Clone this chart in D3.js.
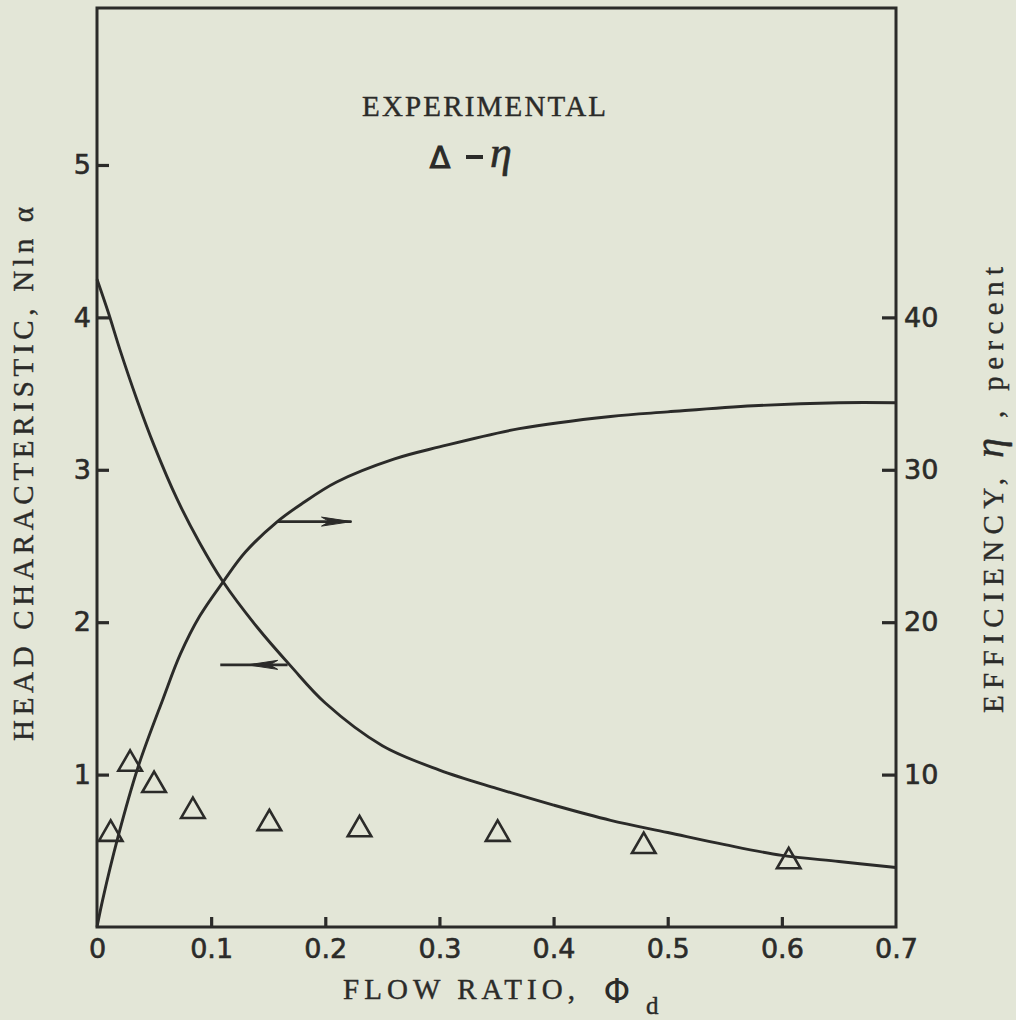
<!DOCTYPE html>
<html>
<head>
<meta charset="utf-8">
<script src="https://cdn.jsdelivr.net/npm/d3@7"></script>
<style>
  html, body { margin: 0; padding: 0; background: #e3e6d7; }
  svg { display: block; }
</style>
</head>
<body>
<svg id="chart" width="1016" height="1020"></svg>
<script>
// ---------- data ----------
const phiTicks = [0, 0.1, 0.2, 0.3, 0.4, 0.5, 0.6, 0.7];
const phiTickLabels = ["0", "0.1", "0.2", "0.3", "0.4", "0.5", "0.6", "0.7"];
const headTicks = [1, 2, 3, 4, 5];
const headTickLabels = ["1", "2", "3", "4", "5"];
const effTicks = [10, 20, 30, 40];
const effTickLabels = ["10", "20", "30", "40"];

// head characteristic curve (left axis, N ln alpha)
const headPhi = [0, 0.01, 0.02, 0.035, 0.05, 0.07, 0.09, 0.11, 0.14, 0.17, 0.20, 0.25, 0.30, 0.35, 0.40, 0.45, 0.50, 0.55, 0.60, 0.65, 0.70];
const headVal = [4.25, 4.03, 3.79, 3.46, 3.16, 2.81, 2.52, 2.27, 1.97, 1.71, 1.47, 1.19, 1.03, 0.91, 0.80, 0.70, 0.62, 0.54, 0.47, 0.43, 0.39];

// efficiency curve (right axis, percent)
const effPhi = [0, 0.005, 0.018, 0.036, 0.058, 0.073, 0.09, 0.111, 0.13, 0.158, 0.18, 0.21, 0.26, 0.30, 0.37, 0.45, 0.50, 0.575, 0.65, 0.70];
const effVal = [0, 1.8, 5.8, 10.5, 15.0, 17.9, 20.4, 22.7, 24.6, 26.6, 27.8, 29.2, 30.7, 31.5, 32.7, 33.5, 33.8, 34.2, 34.4, 34.4];

// experimental efficiency points (triangles)
const triPhi = [0.012, 0.029, 0.050, 0.084, 0.151, 0.230, 0.351, 0.479, 0.606];
const triEff = [6.1, 10.7, 9.3, 7.6, 6.8, 6.4, 6.1, 5.3, 4.3];

// annotation arrows: [phi start, phi end, phi of arrow tip, value]
const arrowToRight = [0.158, 0.223, 0.223, 26.6];   // efficiency curve -> right axis
const arrowToLeft = [0.167, 0.108, 0.132, 1.72];    // head curve -> left axis

// ---------- layout ----------
const ink = "#2b2b29";
const svg = d3.select("#chart");
const x = d3.scaleLinear().domain([0, 0.7]).range([97, 896]);
const yL = d3.scaleLinear().domain([0, 6.03]).range([927, 8]);
const yR = d3.scaleLinear().domain([0, 60.3]).range([927, 8]);

// frame
svg.append("rect")
  .attr("x", x(0)).attr("y", yL(6.03))
  .attr("width", x(0.7) - x(0)).attr("height", yL(0) - yL(6.03))
  .attr("fill", "none").attr("stroke", ink).attr("stroke-width", 3);

const tickFont = "'DejaVu Sans', sans-serif";

// bottom axis
const gx = svg.append("g").attr("transform", `translate(0,${yL(0)})`)
  .call(d3.axisBottom(x).tickValues(phiTicks)
    .tickFormat((d, i) => phiTickLabels[i]).tickSize(-10).tickPadding(12));
// left axis
const gl = svg.append("g").attr("transform", `translate(${x(0)},0)`)
  .call(d3.axisLeft(yL).tickValues(headTicks)
    .tickFormat((d, i) => headTickLabels[i]).tickSize(-12).tickPadding(6));
// right axis
const gr = svg.append("g").attr("transform", `translate(${x(0.7)},0)`)
  .call(d3.axisRight(yR).tickValues(effTicks)
    .tickFormat((d, i) => effTickLabels[i]).tickSize(-14).tickPadding(8));

[gx, gl, gr].forEach(g => {
  g.select(".domain").remove();
  g.selectAll(".tick line").attr("stroke", ink).attr("stroke-width", 3.2);
  g.selectAll(".tick text").attr("fill", ink)
    .attr("stroke", ink).attr("stroke-width", 0.6)
    .style("font-family", tickFont).style("font-size", "27px");
});
gx.selectAll(".tick line").filter(d => d === 0 || d === 0.7).remove();

// curves
const line = d3.line().curve(d3.curveCatmullRom.alpha(0.5));
svg.append("path")
  .attr("d", line(headPhi.map((p, i) => [x(p), yL(headVal[i])])))
  .attr("fill", "none").attr("stroke", ink).attr("stroke-width", 2.9);
svg.append("path")
  .attr("d", line(effPhi.map((p, i) => [x(p), yR(effVal[i])])))
  .attr("fill", "none").attr("stroke", ink).attr("stroke-width", 2.9);

// triangles
const tri = d3.symbol().type(d3.symbolTriangle).size(240);
svg.append("g").selectAll("path")
  .data(triPhi.map((p, i) => [p, triEff[i]]))
  .join("path")
  .attr("transform", d => `translate(${x(d[0])},${yR(d[1])})`)
  .attr("d", tri())
  .attr("fill", "none").attr("stroke", ink).attr("stroke-width", 2.6)
  .attr("stroke-linejoin", "miter");

// arrows
function arrow(a, yScale) {
  const yy = yScale(a[3]);
  const x1 = x(a[0]), x2 = x(a[1]), tip = x(a[2]);
  const dir = Math.sign(x2 - x1);
  svg.append("line").attr("x1", x1).attr("x2", x2).attr("y1", yy).attr("y2", yy)
    .attr("stroke", ink).attr("stroke-width", 2.8);
  svg.append("path")
    .attr("d", `M${tip},${yy} L${tip - dir * 30},${yy - 4.5} L${tip - dir * 22},${yy} L${tip - dir * 30},${yy + 4.5} Z`)
    .attr("fill", ink).attr("stroke", ink).attr("stroke-width", 1);
}
arrow(arrowToRight, yR);
arrow(arrowToLeft, yL);

// ---------- texts ----------
const serif = "'Liberation Serif', 'DejaVu Serif', serif";
function serifText(sel) {
  return sel.style("font-family", serif).attr("fill", ink)
    .attr("stroke", ink).attr("stroke-width", 0.4);
}

serifText(svg.append("text")
  .attr("x", 362).attr("y", 116)
  .attr("textLength", 244).attr("lengthAdjust", "spacing")
  .style("font-size", "29px"))
  .text("EXPERIMENTAL");

svg.append("text").attr("x", 440).attr("y", 168).attr("text-anchor", "middle")
  .style("font-family", tickFont).style("font-size", "30px")
  .attr("fill", ink).attr("stroke", ink).attr("stroke-width", 1.2).text("Δ");
svg.append("rect").attr("x", 466).attr("y", 155).attr("width", 17).attr("height", 4).attr("fill", ink);
svg.append("text").attr("x", 490).attr("y", 167)
  .style("font-family", serif).style("font-style", "italic").style("font-size", "44px")
  .attr("fill", ink).attr("stroke", ink).attr("stroke-width", 0.6).text("η");

// x-axis title
serifText(svg.append("text").attr("x", 343).attr("y", 999)
  .attr("textLength", 232).attr("lengthAdjust", "spacing")
  .style("font-size", "29px"))
  .text("FLOW RATIO,");
svg.append("text").attr("x", 617).attr("y", 1003).attr("text-anchor", "middle")
  .style("font-family", tickFont).style("font-size", "34px").attr("fill", ink).text("Φ");
serifText(svg.append("text").attr("x", 646).attr("y", 1014)
  .style("font-size", "25px"))
  .text("d");

// left axis title
serifText(svg.append("text")
  .attr("transform", "translate(33,741) rotate(-90)")
  .attr("textLength", 534).attr("lengthAdjust", "spacing")
  .style("font-size", "29px"))
  .text("HEAD CHARACTERISTIC, Nln α");

// right axis title
const rt = serifText(svg.append("text")
  .attr("transform", "translate(1003,713) rotate(-90)")
  .attr("textLength", 446).attr("lengthAdjust", "spacing")
  .style("font-size", "29px"));
rt.append("tspan").text("EFFICIENCY, ");
rt.append("tspan").style("font-style", "italic").style("font-size", "40px").text("η");
rt.append("tspan").text(" , percent");
</script>
</body>
</html>
